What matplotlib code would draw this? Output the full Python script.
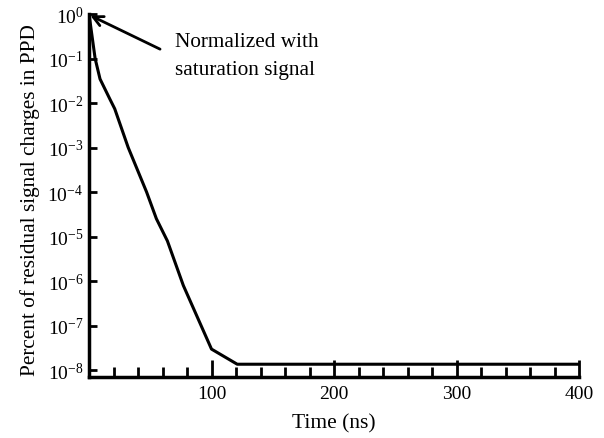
import matplotlib
matplotlib.use("Agg")
import matplotlib.pyplot as plt
from matplotlib.ticker import FixedLocator, LogLocator, NullLocator

plt.rcParams['font.family'] = ['Liberation Serif', 'DejaVu Serif']
plt.rcParams['mathtext.fontset'] = 'stix'

# residual charge curve
time_ns = [0, 2.5, 5, 9, 17, 21, 32, 47, 55, 64, 77, 100, 121, 400]
residual = [1.0, 10**-0.5, 10**-1.0, 10**-1.46, 10**-1.91, 10**-2.13, 10**-3.0,
            10**-4.0, 10**-4.6, 10**-5.1, 10**-6.1, 10**-7.53, 10**-7.87, 10**-7.87]

x_major = [100, 200, 300, 400]
x_minor = [20, 40, 60, 80, 120, 140, 160, 180, 220, 240, 260, 280,
           320, 340, 360, 380]

fig = plt.figure(figsize=(6.04, 4.39), dpi=100)
ax = fig.add_axes([89/604, 61/439, 490/604, 363/439])

ax.plot(time_ns, residual, color='black', linewidth=2.2)
ax.set_yscale('log')
ax.set_xlim(0, 400)
ax.set_ylim(10**-8.157, 1.0)

ax.xaxis.set_major_locator(FixedLocator(x_major))
ax.xaxis.set_minor_locator(FixedLocator(x_minor))
ax.yaxis.set_major_locator(LogLocator(base=10, numticks=20))
ax.yaxis.set_minor_locator(NullLocator())

for s in ['top', 'right']:
    ax.spines[s].set_visible(False)
for s in ['left', 'bottom']:
    ax.spines[s].set_linewidth(2.5)

ax.tick_params(axis='x', which='major', direction='in', length=12, width=2,
               labelsize=14, pad=6)
ax.tick_params(axis='x', which='minor', direction='in', length=7, width=2)
ax.tick_params(axis='y', which='major', direction='in', length=6, width=2,
               labelsize=14, pad=4)

ax.set_xlabel('Time (ns)', fontsize=15.5)
ax.xaxis.set_label_coords(0.5, -0.1)
ax.set_ylabel('Percent of residual signal charges in PPD', fontsize=15.3)
ax.yaxis.set_label_coords(-0.1, 0.49)

# arrow pointing at the normalization point
ax.annotate('', xy=(1.0, 0.93), xytext=(58, 10**-0.79),
            arrowprops=dict(arrowstyle='->', color='black', lw=2,
                            shrinkA=0, shrinkB=0, mutation_scale=18))
ax.text(70, 10**-0.93, 'Normalized with\nsaturation signal', fontsize=15.3,
        ha='left', va='center', linespacing=1.6)

fig.savefig('out.png', dpi=100)
